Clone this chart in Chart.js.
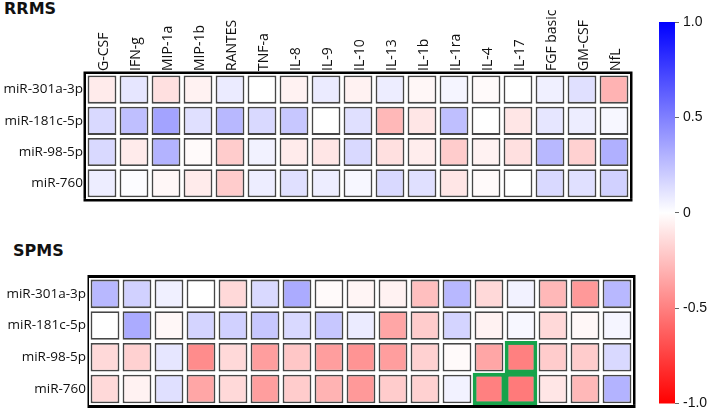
<!DOCTYPE html>
<html>
<head>
<meta charset="utf-8">
<script src="https://cdn.jsdelivr.net/npm/chart.js@4/dist/chart.umd.min.js"></script>
<style>
  body { margin: 0; background: #fff; width: 710px; height: 416px; position: relative; overflow: hidden; }
  canvas { position: absolute; }
  .ttl { position: absolute; font: bold 16px "DejaVu Sans", sans-serif; color: #111; }
</style>
</head>
<body>
<div class="ttl" style="left:4px;top:-1px">RRMS</div>
<div class="ttl" style="left:13px;top:241px">SPMS</div>
<canvas id="rrms" width="645" height="210" style="left:0;top:0"></canvas>
<canvas id="spms" width="645" height="151" style="left:0;top:265px"></canvas>
<canvas id="bar" width="65" height="416" style="left:645px;top:0"></canvas>
<script>
// Correlation heatmaps, miRNA x cytokine, RRMS and SPMS.

const cytokines = ["G-CSF", "IFN-g", "MIP-1a", "MIP-1b", "RANTES", "TNF-a", "IL-8", "IL-9",
  "IL-10", "IL-13", "IL-1b", "IL-1ra", "IL-4", "IL-17", "FGF basic", "GM-CSF", "NfL"];
const mirnas = ["miR-301a-3p", "miR-181c-5p", "miR-98-5p", "miR-760"];

// RRMS rows (same order as cytokines)
const rrms301 = [-0.08, 0.10, -0.12, -0.05, 0.08, 0.00, -0.05, 0.08, -0.05, 0.07, -0.03, 0.04, -0.02, 0.00, 0.06, 0.12, -0.30];
const rrms181 = [0.15, 0.25, 0.36, 0.12, 0.28, 0.15, 0.22, 0.00, 0.12, -0.28, -0.10, 0.25, 0.00, -0.10, 0.10, 0.07, 0.03];
const rrms98 = [0.15, -0.08, 0.30, -0.02, -0.20, 0.05, -0.08, -0.10, 0.15, -0.12, -0.07, -0.20, -0.05, -0.12, 0.28, -0.18, 0.31];
const rrms760 = [0.07, 0.01, -0.03, -0.08, -0.20, 0.07, 0.12, 0.07, 0.03, 0.15, 0.12, -0.10, -0.02, 0.00, 0.15, 0.12, 0.18];

// SPMS rows
const spms301 = [0.28, 0.18, 0.06, 0.00, -0.15, 0.15, 0.33, -0.02, -0.04, -0.05, -0.25, 0.28, -0.15, 0.05, -0.28, -0.40, 0.28];
const spms181 = [0.00, 0.33, -0.03, 0.17, 0.18, 0.22, 0.15, 0.22, 0.08, -0.35, -0.20, 0.17, -0.05, 0.03, -0.15, -0.03, 0.04];
const spms98 = [-0.15, -0.18, 0.10, -0.45, -0.15, -0.38, -0.22, -0.38, -0.42, -0.38, -0.18, -0.02, -0.35, -0.50, -0.20, -0.20, 0.15];
const spms760 = [-0.15, -0.05, 0.12, -0.35, -0.15, -0.38, -0.20, -0.30, -0.40, -0.20, -0.18, 0.05, -0.50, -0.52, -0.10, -0.28, 0.30];

// significant cells, boxed in green (SPMS)
const highlights = [["miR-98-5p", "IL-17"], ["miR-760", "IL-4"], ["miR-760", "IL-17"]];

const barTicks = [1, 0.5, 0, -0.5, -1];

// blue (+1) -> white (0) -> red (-1)
function corrColor(v) {
  const c = Math.round(255 * (1 - Math.min(1, Math.abs(v))));
  return v >= 0 ? `rgb(${c},${c},255)` : `rgb(255,${c},${c})`;
}

const framePlugin = {
  id: "frame",
  afterDatasetsDraw(chart, args, o) {
    const { left, right, top, bottom } = chart.chartArea;
    const ctx = chart.ctx;
    ctx.save();
    ctx.strokeStyle = "#000";
    const line = (w, x1, y1, x2, y2) => {
      ctx.lineWidth = w; ctx.beginPath(); ctx.moveTo(x1, y1); ctx.lineTo(x2, y2); ctx.stroke();
    };
    line(o.top, left - o.left, top - o.top / 2, right + o.right, top - o.top / 2);
    line(o.bottom, left - o.left, bottom + o.bottom / 2, right + o.right, bottom + o.bottom / 2);
    line(o.left, left - o.left / 2, top, left - o.left / 2, bottom);
    line(o.right, right + o.right / 2, top, right + o.right / 2, bottom);

    // vertical column labels (chart.js squeezes rotated tick text, so draw them here)
    if (o.colLabels) {
      const xs = chart.scales.x;
      ctx.fillStyle = "#111";
      ctx.font = "14px 'Open Sans'";
      ctx.textAlign = "left";
      ctx.textBaseline = "middle";
      xs.getLabels().forEach((lab, i) => {
        ctx.save();
        ctx.translate(xs.getPixelForValue(i) + 2, top - 3);
        ctx.rotate(-Math.PI / 2);
        ctx.fillText(lab, 0, 0);
        ctx.restore();
      });
    }
    ctx.restore();
  },
};

function heatmap(id, rows, opts) {
  const datasets = rows.map((vals, i) => ({
    data: vals.map(() => [i + 0.05, i + 0.95]),
    backgroundColor: vals.map(corrColor),
    borderColor: "#474747",
    borderWidth: 1.8,
    borderSkipped: false,
    grouped: false,
    barPercentage: 0.9,
    categoryPercentage: 1,
  }));
  if (opts.marks) {
    datasets.unshift({
      data: opts.marks.map(([m, c]) => ({ x: c, y: [mirnas.indexOf(m), mirnas.indexOf(m) + 1] })),
      backgroundColor: "rgba(0,0,0,0)",
      borderColor: "#16a34a",
      borderWidth: 3,
      borderSkipped: false,
      grouped: false,
      barPercentage: 1,
      categoryPercentage: 1,
      order: -1,
    });
  }
  return new Chart(document.getElementById(id), {
    type: "bar",
    data: { labels: cytokines, datasets },
    plugins: [framePlugin],
    options: {
      responsive: false, animation: false,
      layout: { padding: opts.padding },
      plugins: { legend: { display: false }, tooltip: { enabled: false }, frame: opts.frame },
      scales: {
        x: {
          position: "top", display: opts.showX,
          grid: { display: false, drawTicks: false }, border: { display: false },
          ticks: { display: false },
          afterFit: s => { s.height = opts.xHeight; },
        },
        y: {
          min: 0, max: 4, reverse: true,
          grid: { display: false, drawTicks: false }, border: { display: false },
          afterBuildTicks: s => { s.ticks = mirnas.map((_, i) => ({ value: i + 0.5 })); },
          ticks: { color: "#111", font: { family: "Open Sans", size: 13.5 }, padding: 3,
            callback: v => mirnas[Math.round(v - 0.5)] },
          afterFit: s => { s.width = opts.yWidth; },
        },
      },
    },
  });
}

heatmap("rrms", [rrms301, rrms181, rrms98, rrms760], {
  padding: { top: 0, right: 15, bottom: 5, left: 0 },
  showX: true, xHeight: 74, yWidth: 86,
  frame: { top: 2.5, bottom: 2.5, left: 2.5, right: 2.5, colLabels: true },
});

heatmap("spms", [spms301, spms181, spms98, spms760], {
  padding: { top: 13, right: 12, bottom: 4, left: 0 },
  showX: false, xHeight: 0, yWidth: 89,
  frame: { top: 3, bottom: 3, left: 1.5, right: 2.5, colLabels: false },
  marks: highlights,
});

// colour bar
new Chart(document.getElementById("bar"), {
  type: "bar",
  data: {
    labels: [""],
    datasets: [{
      data: [[barTicks[barTicks.length - 1], barTicks[0]]],
      barPercentage: 1, categoryPercentage: 1,
      borderWidth: 0,
      backgroundColor: c => {
        const ch = c.chart;
        if (!ch.chartArea) return "#fff";
        const y = ch.scales.y;
        const g = ch.ctx.createLinearGradient(0, y.getPixelForValue(1), 0, y.getPixelForValue(-1));
        for (let i = 0; i <= 20; i++) {
          const v = 1 - i / 10;
          g.addColorStop(i / 20, corrColor(v));
        }
        return g;
      },
    }],
  },
  options: {
    responsive: false, animation: false,
    layout: { padding: { top: 22, bottom: 7, left: 14, right: 0 } },
    plugins: { legend: { display: false }, tooltip: { enabled: false } },
    scales: {
      x: { display: false },
      y: {
        position: "right", min: -1, max: 1,
        grid: { drawOnChartArea: false, tickLength: 4, color: "#666" },
        border: { display: false },
        afterBuildTicks: s => { s.ticks = barTicks.map(v => ({ value: v })); },
        ticks: { color: "#111", font: { family: "Liberation Sans", size: 14 }, padding: 4,
          callback: v => (v === 0 ? "0" : v.toFixed(1)) },
        afterFit: s => { s.width = 35; },
      },
    },
  },
});
</script>
</body>
</html>
